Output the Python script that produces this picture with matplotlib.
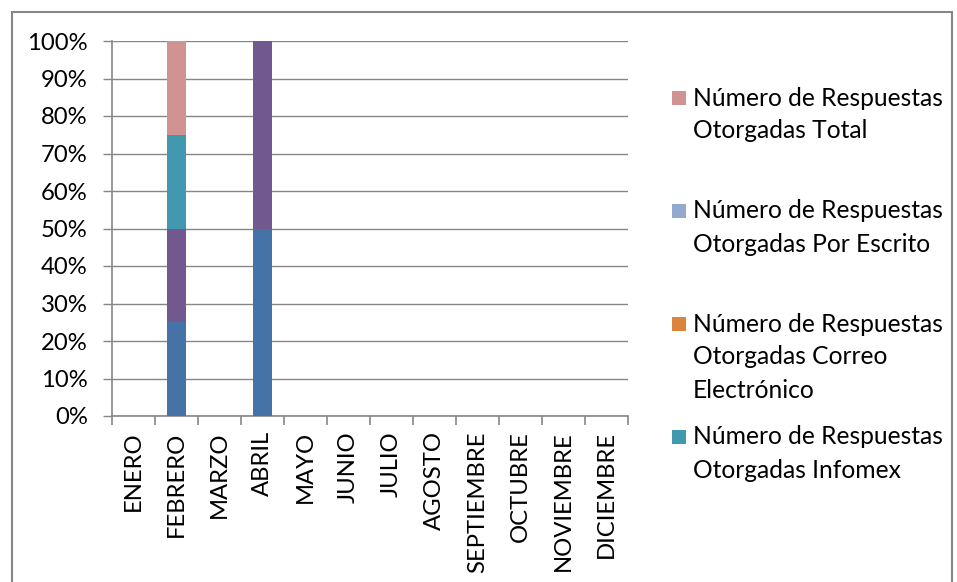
import matplotlib
matplotlib.use("Agg")
import matplotlib.pyplot as plt
import matplotlib.patches as mpatches
import numpy as np

plt.rcParams['font.family'] = ['Lato', 'DejaVu Sans']

months = ["ENERO", "FEBRERO", "MARZO", "ABRIL", "MAYO", "JUNIO", "JULIO",
          "AGOSTO", "SEPTIEMBRE", "OCTUBRE", "NOVIEMBRE", "DICIEMBRE"]

# stacked series from bottom to top (raw counts, drawn as 100% shares)
serie_a = [0, 1, 0, 1, 0, 0, 0, 0, 0, 0, 0, 0]
serie_b = [0, 1, 0, 1, 0, 0, 0, 0, 0, 0, 0, 0]
infomex = [0, 1, 0, 0, 0, 0, 0, 0, 0, 0, 0, 0]
correo = [0, 0, 0, 0, 0, 0, 0, 0, 0, 0, 0, 0]
escrito = [0, 0, 0, 0, 0, 0, 0, 0, 0, 0, 0, 0]
total = [0, 1, 0, 0, 0, 0, 0, 0, 0, 0, 0, 0]

series = [
    ("Número de Solicitudes Recibidas", serie_a, "#4572A7"),
    ("Número de Respuestas Otorgadas", serie_b, "#71588F"),
    ("Número de Respuestas\nOtorgadas Infomex", infomex, "#4198AF"),
    ("Número de Respuestas\nOtorgadas Correo\nElectrónico", correo, "#DB843D"),
    ("Número de Respuestas\nOtorgadas Por Escrito", escrito, "#93A9CF"),
    ("Número de Respuestas\nOtorgadas Total", total, "#D19392"),
]

data = np.array([s[1] for s in series], dtype=float)
sums = data.sum(axis=0)
sums[sums == 0] = 1
shares = data / sums * 100

W, H = 957, 582
fig = plt.figure(figsize=(W/100, H/100), dpi=100)
ax = fig.add_axes([112/W, 1-416/H, (628-112)/W, (416-41)/H])

FS = 17.2
LFS = 17.7

x = np.arange(len(months))
bottom = np.zeros(len(months))
for (label, _, color), vals in zip(series, shares):
    ax.bar(x, vals, bottom=bottom, width=0.42, color=color, label=label, zorder=3)
    bottom += vals

ax.set_xlim(-0.5, len(months) - 0.5)
ax.set_ylim(0, 100)
ax.set_yticks(np.arange(0, 101, 10))
ax.set_yticklabels([f"{v}%" for v in range(0, 101, 10)], fontsize=FS)
ax.yaxis.grid(True, color="#868686", linewidth=1.0, zorder=0)
ax.set_xticks(x)
ax.set_xticklabels(months, rotation=90, fontsize=FS)
ax.set_xticks(np.arange(-0.5, len(months)), minor=True)
ax.tick_params(axis='x', which='major', length=0, pad=11)
ax.tick_params(axis='x', which='minor', length=6.5, color="#868686", width=1.2)
ax.tick_params(axis='y', length=6.5, color="#868686", width=1.0, pad=11)
for side in ["top", "right"]:
    ax.spines[side].set_visible(False)
for side in ["left", "bottom"]:
    ax.spines[side].set_color("#868686")
    ax.spines[side].set_linewidth(1.2)

# legend: only the last four series, reversed, evenly spaced entries
leg = series[2:][::-1]
first_y = 98
entry_gap = 113
line_gap = 33
for i, (label, _, color) in enumerate(leg):
    y0 = first_y + entry_gap * i
    fig.patches.append(mpatches.Rectangle((672/W, 1-(y0+7)/H), 14/W, 14/H,
                                          transform=fig.transFigure,
                                          facecolor=color, edgecolor='none'))
    for j, line in enumerate(label.split("\n")):
        fig.text(693/W, 1-(y0 + line_gap*j)/H, line, fontsize=LFS,
                 ha='left', va='center')

# outer chart border
fig.patches.append(mpatches.Rectangle((12/W, -0.05), (952-12)/W, 1.05 - 12/H,
                                      transform=fig.transFigure, fill=False,
                                      edgecolor="#878787", linewidth=1.5))

fig.savefig("out.png", dpi=100)
